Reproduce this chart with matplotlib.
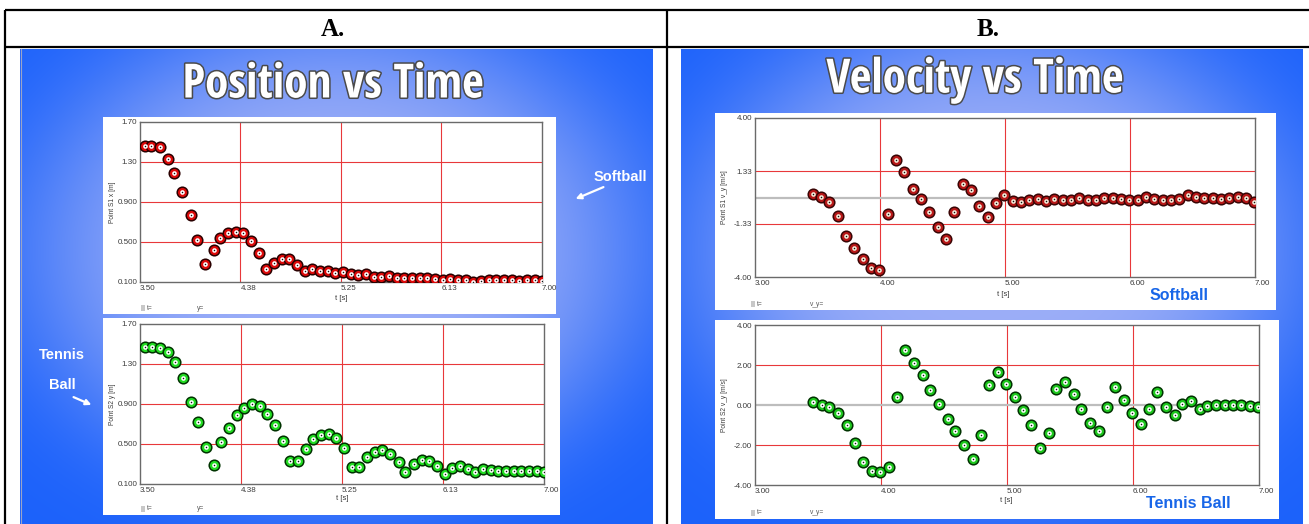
import numpy as np
import matplotlib.pyplot as plt
import matplotlib.patheffects as pe
from matplotlib.patches import Rectangle

plt.rcParams['font.family'] = ['Liberation Sans', 'DejaVu Sans']

W, H = 1309, 524

# frame times of the tracked video (15 frames per second)
t_pos = [3.54, 3.60, 3.67, 3.74, 3.80, 3.87, 3.94, 4.00, 4.07, 4.14,
         4.20, 4.27, 4.34, 4.40, 4.47, 4.54, 4.60, 4.67, 4.74, 4.80,
         4.87, 4.94, 5.00, 5.07, 5.14, 5.20, 5.27, 5.34, 5.40, 5.47,
         5.54, 5.60, 5.67, 5.74, 5.80, 5.87, 5.94, 6.00, 6.07, 6.14,
         6.20, 6.27, 6.34, 6.40, 6.47, 6.54, 6.60, 6.67, 6.74, 6.80,
         6.87, 6.94, 7.00]
t_vel = [3.46, 3.53, 3.59, 3.66, 3.73, 3.79, 3.86, 3.93, 3.99, 4.06,
         4.13, 4.19, 4.26, 4.33, 4.39, 4.46, 4.53, 4.59, 4.66, 4.73,
         4.79, 4.86, 4.93, 4.99, 5.06, 5.13, 5.19, 5.26, 5.33, 5.39,
         5.46, 5.53, 5.59, 5.66, 5.73, 5.79, 5.86, 5.93, 5.99, 6.06,
         6.13, 6.19, 6.26, 6.33, 6.39, 6.46, 6.53, 6.59, 6.66, 6.73,
         6.79, 6.86, 6.93, 6.99]

softball_pos = [1.46, 1.46, 1.45, 1.33, 1.19, 1.00, 0.77, 0.52, 0.28, 0.42,
                0.54, 0.59, 0.60, 0.59, 0.51, 0.39, 0.23, 0.29, 0.33, 0.33,
                0.27, 0.21, 0.23, 0.21, 0.21, 0.19, 0.20, 0.18, 0.17, 0.18,
                0.15, 0.15, 0.16, 0.14, 0.14, 0.14, 0.14, 0.14, 0.13, 0.12,
                0.13, 0.12, 0.12, 0.10, 0.11, 0.12, 0.12, 0.12, 0.12, 0.11,
                0.12, 0.12, 0.11]
tennis_pos = [1.47, 1.47, 1.46, 1.42, 1.32, 1.16, 0.92, 0.72, 0.47, 0.29,
              0.52, 0.66, 0.79, 0.86, 0.90, 0.88, 0.80, 0.69, 0.53, 0.33,
              0.33, 0.45, 0.55, 0.59, 0.60, 0.56, 0.46, 0.27, 0.27, 0.37,
              0.42, 0.44, 0.40, 0.32, 0.22, 0.30, 0.34, 0.33, 0.28, 0.20,
              0.26, 0.28, 0.25, 0.22, 0.25, 0.24, 0.23, 0.23, 0.23, 0.23,
              0.23, 0.23, 0.22]
softball_vel = [0.17, 0.01, -0.21, -0.91, -1.96, -2.54, -3.11, -3.57, -3.65, -0.81,
                1.87, 1.29, 0.44, -0.08, -0.71, -1.49, -2.07, -0.74, 0.69, 0.36,
                -0.41, -0.99, -0.29, 0.11, -0.18, -0.23, -0.11, -0.06, -0.19, -0.06,
                -0.13, -0.11, -0.04, -0.13, -0.13, -0.04, -0.04, -0.06, -0.13, -0.13,
                0.01, -0.06, -0.13, -0.13, -0.06, 0.11, 0.02, -0.03, -0.03, -0.06,
                -0.03, 0.04, -0.03, -0.21]
tennis_vel = [0.13, 0.00, -0.10, -0.38, -1.02, -1.88, -2.87, -3.30, -3.37, -3.12,
              0.38, 2.77, 2.08, 1.50, 0.73, 0.07, -0.68, -1.28, -1.98, -2.72,
              -1.50, 1.00, 1.67, 1.05, 0.42, -0.27, -1.02, -2.15, -1.42, 0.80,
              1.15, 0.55, -0.22, -0.88, -1.28, -0.08, 0.92, 0.25, -0.38, -0.95,
              -0.18, 0.65, -0.10, -0.52, 0.03, 0.22, -0.20, -0.05, -0.02, 0.00,
              0.00, -0.02, -0.03, -0.10]

pos_xticks = [3.50, 4.375, 5.25, 6.125, 7.00]
pos_xlabels = ['3.50', '4.38', '5.25', '6.13', '7.00']
pos_yticks = [0.1, 0.5, 0.9, 1.3, 1.7]
pos_ylabels = ['0.100', '0.500', '0.900', '1.30', '1.70']
vel_xticks = [3.0, 4.0, 5.0, 6.0, 7.0]
vel_xlabels = ['3.00', '4.00', '5.00', '6.00', '7.00']
vel1_yticks = [-4.0, -1.33, 1.33, 4.0]
vel1_ylabels = ['-4.00', '-1.33', '1.33', '4.00']
vel2_yticks = [-4.0, -2.0, 0.0, 2.0, 4.0]
vel2_ylabels = ['-4.00', '-2.00', '0.00', '2.00', '4.00']

EDGE_BLUE = np.array([0x1c, 0x62, 0xfb]) / 255
GLOW_BLUE = np.array([0x9c, 0xae, 0xf7]) / 255
GRID_RED = '#e8383a'
TICK_GRAY = '#3a3a3a'

fig = plt.figure(figsize=(W / 100, H / 100), dpi=100)
bg = fig.add_axes([0, 0, 1, 1])


def px_rect(x0, y0, x1, y1):
    return [x0 / W, 1 - y1 / H, (x1 - x0) / W, (y1 - y0) / H]


def slide(x0, y0, x1, y1, cx, cy, rx, ry):
    xs = np.arange(x0, x1) + 0.5
    ys = np.arange(y0, y1) + 0.5
    X, Y = np.meshgrid(xs, ys)
    r = np.sqrt(((X - cx) / rx) ** 2 + ((Y - cy) / ry) ** 2)
    f = np.exp(-r ** 4)[..., None]
    img = EDGE_BLUE * (1 - f) + GLOW_BLUE * f
    bg.imshow(img, extent=(x0, x1, y1, y0), interpolation='bilinear',
              aspect='auto', zorder=0)


slide(20, 49, 653, H, 335, 250, 305, 235)
slide(681, 49, 1303, H, 995, 250, 300, 235)

bg.set_xlim(0, W)
bg.set_ylim(H, 0)
bg.axis('off')

# table rules
for xs, ys in [([5, W], [10, 10]), ([5, W], [47, 47]),
               ([5, 5], [10, H]), ([666.5, 666.5], [10, H])]:
    bg.plot(xs, ys, color='black', lw=1.6, solid_capstyle='butt', zorder=1)
bg.plot([20.5, 20.5], [49, H], color='#9aa4c8', lw=0.8, zorder=1)

header_font = dict(family='Liberation Serif', weight='bold', fontsize=18)
bg.text(333, 30, 'A.', ha='center', va='center', **header_font)
bg.text(988, 30, 'B.', ha='center', va='center', **header_font)

title_font = dict(family=['Open Sans Condensed', 'Liberation Sans', 'DejaVu Sans'],
                  weight='bold', fontsize=34, color='white',
                  path_effects=[pe.withStroke(linewidth=2.2, foreground='#4a4a4a')])
bg.text(333, 85, 'Position vs Time', ha='center', va='center', **title_font)
bg.text(975, 80, 'Velocity vs Time', ha='center', va='center', **title_font)

# white panels behind each graph
for x0, y0, x1, y1 in [(103, 117, 556, 314), (103, 318, 560, 515),
                       (715, 113, 1276, 310), (715, 320, 1279, 519)]:
    bg.add_patch(Rectangle((x0, y0), x1 - x0, y1 - y0, fc='white', ec='none', zorder=1))


def graph(rect, t, vals, xlim, xticks, xlabels, ylim, yticks, ylabels,
          ring, ring_edge, core, zero_line=False):
    ax = fig.add_axes(px_rect(*rect))
    ax.set_xlim(*xlim)
    ax.set_ylim(*ylim)
    ax.set_xticks(xticks)
    ax.set_xticklabels(xlabels)
    ax.set_yticks(yticks)
    ax.set_yticklabels(ylabels)
    ax.tick_params(length=0, labelsize=5.8, labelcolor=TICK_GRAY, pad=2)
    for lab in ax.get_xticklabels():
        lab.set_horizontalalignment('left')
    for x in xticks[1:-1]:
        ax.axvline(x, color=GRID_RED, lw=0.8, zorder=1)
    for y in yticks[1:-1]:
        if zero_line and y == 0:
            continue
        ax.axhline(y, color=GRID_RED, lw=0.8, zorder=1)
    if zero_line:
        ax.axhline(0, color='#bdbdbd', lw=1.6, zorder=1)
    for s in ax.spines.values():
        s.set_color('#6a6a6a')
        s.set_linewidth(1.0)
    ax.scatter(t, vals, s=58, c=ring, edgecolors=ring_edge, linewidths=1.1, zorder=3)
    ax.scatter(t, vals, s=11, c=core, linewidths=0, zorder=4)
    ax.scatter(t, vals, s=1.2, c='#111111', linewidths=0, zorder=5)
    return ax


graph((140, 122, 542, 282), t_pos, softball_pos, (3.5, 7.0), pos_xticks, pos_xlabels,
      (0.1, 1.7), pos_yticks, pos_ylabels, '#dd0a0a', '#2a0000', 'white')
graph((140, 324, 544, 484), t_pos, tennis_pos, (3.5, 7.0), pos_xticks, pos_xlabels,
      (0.1, 1.7), pos_yticks, pos_ylabels, '#22dd22', '#003300', 'white')
graph((755, 118, 1255, 277), t_vel, softball_vel, (3.0, 7.0), vel_xticks, vel_xlabels,
      (-4.0, 4.0), vel1_yticks, vel1_ylabels, '#b81818', '#3a0505', '#f5eedc',
      zero_line=True)
graph((755, 325, 1259, 485), t_vel, tennis_vel, (3.0, 7.0), vel_xticks, vel_xlabels,
      (-4.0, 4.0), vel2_yticks, vel2_ylabels, '#1ec81e', '#003300', 'white',
      zero_line=True)

# axis captions and readout rows under each graph
small = dict(fontsize=4.8, color=TICK_GRAY, zorder=2)
for x, y, label in [(112, 202, 'Point S1 x [m]'), (112, 404, 'Point S2 y [m]'),
                    (724, 197, 'Point S1 v_y [m/s]'), (724, 405, 'Point S2 v_y [m/s]')]:
    bg.text(x, y, label, rotation=90, ha='center', va='center', **small)
for x, y in [(341, 298), (342, 499), (1003, 295), (1006, 501)]:
    bg.text(x, y, 't [s]', ha='center', va='center', fontsize=5.5, color=TICK_GRAY, zorder=2)
for x, y, name in [(141, 308, 'y='), (141, 509, 'y='), (751, 304, 'v_y='), (751, 513, 'v_y=')]:
    bg.add_patch(Rectangle((x, y - 3), 4, 6, fc='#c8c8c8', ec='none', zorder=2))
    bg.text(x + 6, y, 't=', ha='left', va='center', fontsize=4.8, color='#555555', zorder=2)
    bg.text(x + 56 if name == 'y=' else x + 59, y, name, ha='left', va='center',
            fontsize=4.8, color='#555555', zorder=2)

# ball annotations
white_label = dict(color='white', fontsize=10.5, weight='bold', zorder=3)
bg.text(620, 177, 'Softball', ha='center', va='center', **white_label)
bg.annotate('', xy=(573, 200), xytext=(606, 186),
            arrowprops=dict(arrowstyle='-|>', color='white', lw=1.6, mutation_scale=8), zorder=3)
bg.text(62, 355, 'Tennis', ha='center', va='center', **white_label)
bg.text(62, 385, 'Ball', ha='center', va='center', **white_label)
bg.annotate('', xy=(94, 406), xytext=(71, 396),
            arrowprops=dict(arrowstyle='-|>', color='white', lw=1.6, mutation_scale=8), zorder=3)

blue_label = dict(color='#1866e8', fontsize=11.5, weight='bold', zorder=3)
bg.text(1179, 296, 'Softball', ha='center', va='center', **blue_label)
bg.text(1188, 503, 'Tennis Ball', ha='center', va='center', **blue_label)

fig.savefig('out.png', dpi=100)
